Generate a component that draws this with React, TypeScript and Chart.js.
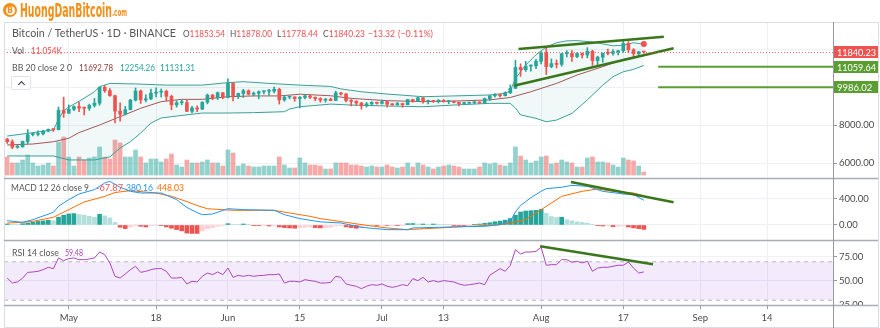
import React, { useEffect, useRef } from "react";
import { Chart, registerables } from "chart.js";

Chart.register(...registerables);

// ---------- data ----------
const xTickIdx = [12, 29, 43, 57, 73, 85, 104, 120, 135, 148];
const xTickLabels = ["May", "18", "Jun", "15", "Jul", "13", "Aug", "17", "Sep", "14"];

const opens = [
  7257, 7120, 6830, 6850, 7130, 7490, 7510, 7540, 7690, 7770,
  7760, 8780, 8620, 8830, 8970, 8890, 8880, 9030, 9150, 9990,
  9810, 9540, 8730, 8570, 8810, 9310, 9790, 9320, 9380, 9680,
  9730, 9780, 9510, 9060, 9170, 9180, 8720, 8900, 8840, 9200,
  9575, 9430, 9700, 9450, 10200, 9520, 9660, 9800, 9620, 9670,
  9750, 9780, 9780, 9880, 9320, 9470, 9480, 9390, 9450, 9530,
  9460, 9390, 9310, 9360, 9290, 9690, 9630, 9290, 9250, 9160,
  9010, 9110, 9190, 9140, 9230, 9090, 9060, 9130, 9070, 9340,
  9250, 9430, 9230, 9290, 9240, 9300, 9240, 9250, 9190, 9130,
  9150, 9170, 9210, 9160, 9390, 9540, 9600, 9540, 9700, 9930,
  11030, 10910, 11100, 11110, 11350, 11800, 11070, 11230, 11190, 11750,
  11770, 11600, 11760, 11680, 11880, 11390, 11570, 11780, 11770, 11860,
  11910, 12290, 11960, 11750, 11853.54,
];
const highs = [
  7300, 7220, 6940, 7160, 7760, 7600, 7700, 7720, 7795, 7800,
  8950, 9460, 9060, 9010, 9190, 8950, 9100, 9400, 10000, 10070,
  9920, 9580, 9170, 8980, 9350, 9950, 9840, 9590, 9890, 9950,
  9900, 9840, 9570, 9270, 9310, 9300, 8980, 9010, 9220, 9630,
  9610, 9740, 9700, 10430, 10230, 9680, 9880, 9850, 9740, 9800,
  9800, 9880, 9990, 9940, 9560, 9500, 9490, 9500, 9590, 9560,
  9480, 9440, 9400, 9420, 9780, 9720, 9670, 9340, 9280, 9190,
  9190, 9230, 9200, 9310, 9270, 9130, 9190, 9140, 9350, 9360,
  9450, 9440, 9310, 9300, 9340, 9340, 9280, 9270, 9210, 9190,
  9190, 9240, 9220, 9420, 9540, 9660, 9620, 9740, 10110, 11400,
  11220, 11350, 11170, 11450, 11860, 12120, 11480, 11420, 11780, 11910,
  11920, 11810, 11800, 12070, 11940, 11620, 11790, 12000, 11970, 11930,
  12470, 12390, 12020, 11880, 11878,
];
const lows = [
  7030, 6750, 6780, 6830, 7020, 7420, 7430, 7480, 7640, 7660,
  7740, 8400, 8620, 8760, 8700, 8530, 8770, 8940, 9040, 9720,
  9520, 8110, 8200, 8530, 8790, 9260, 9130, 9220, 9330, 9480,
  9470, 9280, 8800, 8940, 9070, 8700, 8630, 8700, 8810, 9110,
  9330, 9340, 9380, 9420, 9270, 9390, 9450, 9580, 9530, 9380,
  9640, 9570, 9690, 9100, 9250, 9380, 9250, 8900, 9370, 9380,
  9280, 9200, 9200, 9270, 9280, 9570, 9210, 9000, 9030, 8830,
  8940, 9010, 9090, 9100, 8940, 9040, 9050, 8930, 9060, 9200,
  9230, 9150, 9110, 9190, 9160, 9200, 9120, 9160, 9000, 9090,
  9120, 9110, 9130, 9150, 9290, 9470, 9470, 9530, 9650, 9920,
  10560, 10820, 10830, 10960, 11220, 10660, 11010, 11000, 11090, 11580,
  11350, 11540, 11520, 11530, 11140, 11160, 11300, 11690, 11680, 11690,
  11820, 11820, 11570, 11680, 11778.44,
];
const closes = [
  7120, 6830, 6850, 7130, 7490, 7510, 7540, 7690, 7770, 7760,
  8780, 8620, 8830, 8970, 8890, 8880, 9030, 9150, 9990, 9810,
  9540, 8730, 8570, 8810, 9310, 9790, 9320, 9380, 9680, 9730,
  9780, 9510, 9060, 9170, 9180, 8720, 8900, 8840, 9200, 9575,
  9430, 9700, 9450, 10200, 9520, 9660, 9800, 9620, 9670, 9750,
  9780, 9780, 9880, 9320, 9470, 9480, 9390, 9450, 9530, 9460,
  9390, 9310, 9360, 9290, 9690, 9630, 9290, 9250, 9160, 9010,
  9110, 9190, 9140, 9230, 9090, 9060, 9130, 9070, 9340, 9250,
  9430, 9230, 9290, 9240, 9300, 9240, 9250, 9190, 9130, 9150,
  9170, 9210, 9160, 9390, 9540, 9600, 9540, 9700, 9930, 11030,
  10910, 11100, 11110, 11350, 11800, 11070, 11230, 11190, 11750, 11770,
  11600, 11760, 11680, 11880, 11390, 11570, 11780, 11770, 11860, 11910,
  12290, 11960, 11750, 11853.54, 11840.23,
];
// volume, thousand BTC
const volumes = [
  72, 48, 48, 60, 80, 48, 36, 40, 48, 36,
  132, 152, 72, 36, 72, 60, 68, 72, 112, 72,
  64, 140, 128, 72, 72, 100, 72, 48, 64, 64,
  52, 64, 84, 40, 32, 60, 48, 48, 52, 60,
  48, 48, 36, 100, 88, 36, 44, 36, 32, 32,
  36, 36, 36, 72, 40, 28, 28, 68, 48, 40,
  40, 36, 24, 24, 48, 48, 48, 40, 40, 36,
  32, 36, 32, 32, 40, 32, 28, 32, 48, 32,
  48, 40, 32, 24, 32, 36, 40, 36, 32, 24,
  24, 24, 32, 48, 44, 48, 40, 36, 48, 112,
  76, 60, 48, 56, 72, 76, 44, 48, 60, 52,
  48, 32, 32, 68, 72, 52, 52, 48, 40, 32,
  68, 60, 56, 36, 12,
];

// Bollinger Bands (20, 2)
const bbUpperIdx = [0, 9, 10, 11, 12, 14, 17, 18, 20, 25, 31, 38, 43, 46, 51, 57, 63, 65, 69, 74, 81, 87, 94, 97, 98, 99, 100, 101, 103, 105, 107, 109, 111, 114, 116, 118, 120, 122, 124];
const bbUpper = [7420, 7740, 8300, 8750, 8950, 9250, 9750, 10020, 10190, 10160, 10100, 10100, 10230, 10280, 10190, 10100, 10030, 9900, 9750, 9630, 9490, 9530, 9580, 9670, 9800, 10450, 10800, 11150, 11700, 12100, 12330, 12430, 12440, 12370, 12270, 12170, 12200, 12330, 12254.26];
const bbMidIdx = [0, 5, 9, 12, 14, 18, 22, 26, 30, 34, 38, 43, 48, 53, 57, 63, 67, 74, 81, 87, 94, 98, 102, 107, 111, 116, 120, 124];
const bbMid = [6950, 7000, 7120, 7300, 7600, 8000, 8440, 8880, 9230, 9350, 9350, 9490, 9530, 9530, 9620, 9540, 9400, 9280, 9230, 9260, 9320, 9450, 9750, 10190, 10630, 11070, 11460, 11692.78];
const bbLowerIdx = [0, 9, 12, 17, 20, 22, 24, 26, 28, 30, 33, 38, 43, 48, 54, 55, 57, 63, 67, 74, 81, 87, 94, 98, 99, 100, 103, 105, 107, 110, 113, 116, 118, 120, 122, 124];
const bbLower = [6370, 6370, 6160, 6160, 6320, 6790, 7120, 7580, 8100, 8370, 8470, 8630, 8630, 8650, 8700, 8840, 8960, 9100, 9050, 9000, 8960, 9050, 9140, 9140, 8890, 8530, 8350, 8170, 8260, 8610, 9320, 10100, 10540, 10800, 10930, 11131.31];

// MACD (12, 26, 9)
const macdIdx = [0, 3, 5, 9, 10, 12, 14, 17, 19, 20, 22, 24, 26, 30, 33, 35, 37, 38, 40, 43, 46, 52, 54, 57, 61, 65, 69, 74, 78, 79, 84, 88, 93, 96, 98, 99, 100, 101, 102, 104, 105, 108, 110, 113, 116, 120, 122, 124];
const macdLine = [66, 41, 82, 195, 288, 390, 477, 544, 646, 672, 580, 518, 492, 492, 390, 270, 190, 159, 169, 251, 236, 226, 159, 98, 48, 31, -36, -72, -72, -46, -36, -26, -21, 5, 60, 200, 300, 360, 420, 518, 559, 580, 610, 595, 518, 477, 470, 380.16];
const signalIdx = [0, 3, 5, 9, 12, 15, 19, 21, 24, 29, 32, 35, 37, 39, 44, 52, 55, 59, 61, 70, 74, 78, 84, 90, 96, 98, 101, 105, 108, 112, 115, 118, 122, 124];
const signalLine = [31, 41, 56, 118, 236, 354, 440, 500, 528, 492, 441, 360, 300, 250, 226, 226, 185, 133, 98, -5, -46, -72, -46, -21, 5, 31, 82, 287, 441, 518, 554, 518, 492, 448.03];
const macdHist = [
  15, 10, 8, 20, 30, 40, 55, 62, 72, 65,
  120, 150, 170, 175, 160, 150, 135, 120, 165, 140,
  110, 40, -35, -55, -30, -15, -20, -30, -10, -5,
  -5, -30, -50, -70, -90, -125, -130, -130, -90, -60,
  -40, -20, -5, 20, 10, 8, 15, 5, -5, -10,
  -5, -15, -5, -30, -40, -45, -50, -40, -35, -30,
  -40, -45, -40, -35, -15, -10, -30, -40, -50, -45,
  -10, -8, -10, -8, -8, -5, -5, -3, 20, 22,
  15, 15, 12, 15, 12, 10, 8, -3, -5, -5,
  -3, 5, 15, 25, 35, 50, 60, 75, 100, 150,
  200, 215, 220, 226, 240, 180, 130, 115, 120, 80,
  65, 50, 40, 28, 10, -5, -15, -10, -25, -20,
  -15, -30, -45, -55, -67.87,
];

// RSI 14
const rsi = [
  53.1, 47.9, 49, 53, 59, 59.4, 60.1, 61.8, 64.3, 62.9,
  74, 71.2, 73.3, 74, 72.2, 72.2, 72.9, 74, 80.2, 77.4,
  68.8, 54.9, 53.1, 57.3, 61.8, 65.3, 59, 60.1, 61.8, 62.9,
  62.9, 60.1, 53.1, 53.1, 53.8, 46.9, 49.7, 49, 54.9, 58.3,
  56.6, 59.4, 56.6, 63.5, 53.8, 55.9, 54.9, 55.9, 54.9, 55.6,
  55.9, 56.6, 56.6, 57.3, 47.9, 49.7, 49.7, 49, 51.4, 50.4,
  49.7, 47.9, 47.9, 48.6, 54.9, 53.8, 46.9, 45.5, 44.5, 42,
  44.5, 46.2, 45.5, 46.9, 44.5, 43.4, 44.5, 46.2, 45.1, 52.4,
  50.4, 53.8, 49, 50.4, 49, 50.4, 49.7, 49, 46.9, 45.5,
  46.2, 46.9, 47.9, 46.2, 56, 59.4, 62.9, 60.1, 66.4, 82.6,
  78.1, 80.2, 80.2, 80.9, 85.1, 66.4, 67, 67, 72.2, 72.2,
  69.5, 70.5, 68.8, 70.5, 60.1, 63.5, 64.3, 64.3, 65.3, 66.4,
  66.4, 69.8, 63.5, 58.3, 59.48,
];
const rsiBands = [70, 30];

// drawings
const priceLevels = [11059.64, 9986.02];
const levelStartIdx = 126.8;
const trendTopIdx = [99.6, 127.9];
const trendTopVal = [12000, 12647];
const trendBotIdx = [98.7, 129.8];
const trendBotVal = [10070, 12037];
const macdTrendIdx = [109.8, 129.8];
const macdTrendVal = [661, 349];
const rsiTrendIdx = [103.8, 125.8];
const rsiTrendVal = [86.1, 67.4];
const markerIdx = [124];
const markerVal = [12260];

// ---------- styling ----------
const X_MIN = -0.62;
const X_MAX = 160.85;
const UP = "#26a69a";
const DOWN = "#ef5350";
const FONT = 'Lato, "Noto Sans", sans-serif';
const GRID = "#eef0f5";
const AXIS = "#9598a1";
const TXT = "#4a4a4a";
const GREEN_LVL = "#5a9e32";
const GREEN_TREND = "#3a761a";

const pts = (idx: number[], vals: number[]) => idx.map((x, k) => ({ x, y: vals[k] }));

const overlayPlugin = {
  id: "overlay",
  afterDatasetsDraw(chart: any) {
    const { ctx, chartArea: a, scales } = chart;
    const py = Math.round(scales.y.getPixelForValue(closes[closes.length - 1])) + 0.5;
    ctx.save();
    ctx.strokeStyle = "rgba(239,83,80,0.85)";
    ctx.lineWidth = 1;
    ctx.setLineDash([1, 2]);
    ctx.beginPath();
    ctx.moveTo(a.left, py);
    ctx.lineTo(a.right, py);
    ctx.stroke();
    ctx.restore();
  },
  afterDraw(chart: any) {
    const { ctx, chartArea: a, scales, width, height } = chart;
    ctx.save();
    // mask below RSI pane on axis column
    ctx.fillStyle = "#fff";
    ctx.fillRect(a.right + 1, a.bottom + 1, width - a.right, height - a.bottom);
    // frame
    ctx.strokeStyle = "#d9dce3";
    ctx.lineWidth = 1;
    ctx.strokeRect(a.left + 0.5, a.top + 0.5, width - a.left - 2, height - a.top - 1);
    // pane separators
    ctx.strokeStyle = "#a9acb4";
    ctx.lineWidth = 1.5;
    [scales.macd.top, scales.rsi.top, a.bottom].forEach((yy: number) => {
      ctx.beginPath();
      ctx.moveTo(a.left, Math.round(yy) + 0.5);
      ctx.lineTo(width - 2, Math.round(yy) + 0.5);
      ctx.stroke();
    });
    // axis line
    ctx.strokeStyle = AXIS;
    ctx.lineWidth = 1;
    ctx.beginPath();
    ctx.moveTo(Math.round(a.right) + 0.5, a.top);
    ctx.lineTo(Math.round(a.right) + 0.5, height);
    ctx.stroke();
    // price label boxes
    const boxes = [
      { v: closes[closes.length - 1], c: DOWN },
      ...priceLevels.map((v) => ({ v, c: GREEN_LVL })),
    ];
    ctx.font = `9.5px ${FONT}`;
    ctx.textBaseline = "middle";
    ctx.textAlign = "left";
    boxes.forEach((b) => {
      const yy = Math.round(scales.y.getPixelForValue(b.v));
      ctx.fillStyle = b.c;
      ctx.fillRect(a.right + 1, yy - 6, 44, 12);
      ctx.fillStyle = "#fff";
      ctx.fillText(b.v.toFixed(2), a.right + 4, yy + 0.5, 39);
    });
    ctx.restore();
  },
};

type Seg = { x: number; y: number; w: number; parts: [string, string][]; size?: number };
const GRAY = "#555";
const segs: Seg[] = [
  { x: 12, y: 33, w: 164, size: 11.5, parts: [["Bitcoin / TetherUS · 1D · BINANCE", GRAY]] },
  { x: 183, y: 33, w: 42, parts: [["O", GRAY], ["11853.54", DOWN]] },
  { x: 230, y: 33, w: 42, parts: [["H", GRAY], ["11878.00", DOWN]] },
  { x: 277, y: 33, w: 41, parts: [["L", GRAY], ["11778.44", DOWN]] },
  { x: 323, y: 33, w: 42, parts: [["C", GRAY], ["11840.23", DOWN]] },
  { x: 368, y: 33, w: 27, parts: [["−13.32", DOWN]] },
  { x: 398, y: 33, w: 35, parts: [["(−0.11%)", DOWN]] },
  { x: 12, y: 50, w: 12, parts: [["Vol", GRAY]] },
  { x: 31, y: 50, w: 31, parts: [["11.054K", DOWN]] },
  { x: 12, y: 67, w: 60, parts: [["BB 20 close 2 0", GRAY]] },
  { x: 79, y: 67, w: 34, parts: [["11692.78", "#8b3b3b"]] },
  { x: 120, y: 67, w: 35, parts: [["12254.26", "#26a69a"]] },
  { x: 160, y: 67, w: 35, parts: [["11131.31", "#26a69a"]] },
  { x: 11, y: 187, w: 78, parts: [["MACD 12 26 close 9", GRAY]] },
  { x: 96, y: 187, w: 27, parts: [["-67.87", DOWN]] },
  { x: 126, y: 187, w: 27, parts: [["380.16", "#2196f3"]] },
  { x: 157, y: 187, w: 27, parts: [["448.03", "#ff6d00"]] },
  { x: 12, y: 252, w: 47, parts: [["RSI 14 close", GRAY]] },
  { x: 65, y: 252, w: 18, parts: [["59.48", "#ab47bc"]] },
];

export default function App() {
  const canvasRef = useRef<HTMLCanvasElement>(null);
  const wrapRef = useRef<HTMLDivElement>(null);

  useEffect(() => {
    document.body.style.margin = "0";
    // fit header texts to measured widths
    wrapRef.current?.querySelectorAll<HTMLElement>("[data-w]").forEach((el) => {
      el.style.transform = "none";
      const nat = el.getBoundingClientRect().width;
      const w = Number(el.dataset.w);
      if (nat > 0) el.style.transform = `scaleX(${w / nat})`;
    });

    const up = closes.map((c, i) => c >= opens[i]);
    const candleColors = up.map((u) => (u ? UP : DOWN));
    const volColors = up.map((u) => (u ? "rgba(38,166,154,0.5)" : "rgba(239,83,80,0.5)"));
    const histColors = macdHist.map((v, i) => {
      const p = i > 0 ? macdHist[i - 1] : v;
      if (v >= 0) return v >= p ? "#26a69a" : "#b2dfdb";
      return v <= p ? "#ef5350" : "#ffcdd2";
    });
    const idx = closes.map((_, i) => i);

    const line = (data: any[], yAxisID: string, color: string, width = 1, extra: any = {}) => ({
      type: "line",
      data,
      yAxisID,
      borderColor: color,
      borderWidth: width,
      pointRadius: 0,
      tension: 0,
      fill: false,
      ...extra,
    });

    const chart = new Chart(canvasRef.current!, {
      type: "bar",
      data: {
        datasets: [
          {
            type: "bar",
            data: idx.map((i) => ({ x: i, y: volumes[i] })),
            yAxisID: "vol",
            backgroundColor: volColors,
            barThickness: 4,
            grouped: false,
            order: 30,
          },
          line(pts(bbUpperIdx, bbUpper), "y", "#3aa096", 1, { fill: "+1", backgroundColor: "rgba(38,166,154,0.07)", order: 20 }),
          line(pts(bbLowerIdx, bbLower), "y", "#3aa096", 1, { order: 20 }),
          line(pts(bbMidIdx, bbMid), "y", "#a35656", 1, { order: 19 }),
          {
            type: "bar",
            data: idx.map((i) => ({ x: i, y: [lows[i], highs[i]] })),
            yAxisID: "y",
            backgroundColor: candleColors,
            barThickness: 1,
            grouped: false,
            order: 10,
          },
          {
            type: "bar",
            data: idx.map((i) => ({ x: i, y: [opens[i], closes[i]] })),
            yAxisID: "y",
            backgroundColor: candleColors,
            barThickness: 3,
            minBarLength: 1,
            grouped: false,
            order: 9,
          },
          ...priceLevels.map((v) =>
            line([{ x: levelStartIdx, y: v }, { x: X_MAX, y: v }], "y", GREEN_LVL, 2, { order: 3 })
          ),
          line(pts(trendTopIdx, trendTopVal), "y", GREEN_TREND, 2.5, { order: 2 }),
          line(pts(trendBotIdx, trendBotVal), "y", GREEN_TREND, 2.5, { order: 2 }),
          line(pts(markerIdx, markerVal), "y", DOWN, 1, {
            showLine: false,
            pointRadius: 3,
            pointBackgroundColor: DOWN,
            pointBorderWidth: 0,
            order: 1,
          }),
          {
            type: "bar",
            data: idx.map((i) => ({ x: i, y: macdHist[i] })),
            yAxisID: "macd",
            backgroundColor: histColors,
            barThickness: 4,
            grouped: false,
            order: 12,
          },
          line(pts(macdIdx, macdLine), "macd", "#2196f3", 1, { order: 6 }),
          line(pts(signalIdx, signalLine), "macd", "#ff6d00", 1, { order: 6 }),
          line(pts(macdTrendIdx, macdTrendVal), "macd", GREEN_TREND, 2.5, { order: 2 }),
          line([{ x: X_MIN, y: rsiBands[0] }, { x: X_MAX, y: rsiBands[0] }], "rsi", "#b7b9c2", 1, {
            borderDash: [4, 4],
            fill: "+1",
            backgroundColor: "rgba(150,60,220,0.11)",
            order: 25,
          }),
          line([{ x: X_MIN, y: rsiBands[1] }, { x: X_MAX, y: rsiBands[1] }], "rsi", "#b7b9c2", 1, {
            borderDash: [4, 4],
            order: 25,
          }),
          line(idx.map((i) => ({ x: i, y: rsi[i] })), "rsi", "#ab47bc", 1, { order: 5 }),
          line(pts(rsiTrendIdx, rsiTrendVal), "rsi", GREEN_TREND, 2.5, { order: 2 }),
        ] as any,
      },
      options: {
        responsive: false,
        animation: false,
        devicePixelRatio: 1,
        events: [],
        layout: { padding: { top: 22, left: 3, right: 2, bottom: 0 } },
        plugins: { legend: { display: false }, tooltip: { enabled: false } },
        scales: {
          x: {
            type: "linear",
            min: X_MIN,
            max: X_MAX,
            offset: false,
            grid: { color: GRID, offset: false, drawTicks: true, tickLength: 4, tickColor: AXIS },
            border: { display: true, color: AXIS },
            afterBuildTicks: (s: any) => {
              s.ticks = xTickIdx.map((v) => ({ value: v }));
            },
            afterFit: (s: any) => {
              s.height = 23;
            },
            ticks: {
              autoSkip: false,
              maxRotation: 0,
              padding: 3,
              color: TXT,
              font: { family: FONT, size: 9.5 },
              callback: (v: any) => xTickLabels[xTickIdx.indexOf(Number(v))] ?? "",
            },
          },
          y: {
            type: "linear",
            position: "right",
            stack: "panes",
            stackWeight: 156,
            min: 5211,
            max: 13421,
            afterBuildTicks: (s: any) => {
              s.ticks = [6000, 8000, 10000, 12000].map((v) => ({ value: v }));
            },
            afterFit: (s: any) => {
              s.width = 45;
            },
            grid: { color: GRID, drawTicks: true, tickLength: 4, tickColor: AXIS },
            border: { color: AXIS },
            ticks: {
              padding: 2,
              color: TXT,
              font: { family: FONT, size: 9.5 },
              callback: (v: any) => (v === 6000 || v === 8000 ? Number(v).toFixed(2) : ""),
            },
          },
          macd: {
            type: "linear",
            position: "right",
            stack: "panes",
            stackWeight: 62,
            min: -231,
            max: 723,
            afterBuildTicks: (s: any) => {
              s.ticks = [0, 400].map((v) => ({ value: v }));
            },
            afterFit: (s: any) => {
              s.width = 45;
            },
            grid: { color: GRID, drawTicks: true, tickLength: 4, tickColor: AXIS },
            border: { color: AXIS },
            ticks: {
              padding: 2,
              color: TXT,
              font: { family: FONT, size: 9.5 },
              callback: (v: any) => Number(v).toFixed(2),
            },
          },
          rsi: {
            type: "linear",
            position: "right",
            stack: "panes",
            stackWeight: 65,
            min: 25,
            max: 92.7,
            afterBuildTicks: (s: any) => {
              s.ticks = [25, 50, 75].map((v) => ({ value: v }));
            },
            afterFit: (s: any) => {
              s.width = 45;
            },
            grid: { color: GRID, drawTicks: true, tickLength: 4, tickColor: AXIS },
            border: { color: AXIS },
            ticks: {
              padding: 2,
              color: TXT,
              font: { family: FONT, size: 9.5 },
              callback: (v: any) => Number(v).toFixed(2),
            },
          },
          vol: {
            type: "linear",
            position: "left",
            display: false,
            min: -520,
            max: 612,
          },
        },
      } as any,
      plugins: [overlayPlugin],
    });
    return () => chart.destroy();
  }, []);

  return (
    <div
      ref={wrapRef}
      style={{ position: "relative", width: 880, height: 328, overflow: "hidden", background: "#fff", fontFamily: FONT }}
    >
      <canvas ref={canvasRef} width={880} height={328} style={{ display: "block" }} />
      {/* logo */}
      <div
        style={{
          position: "absolute",
          left: 3,
          top: 3,
          width: 14,
          height: 14,
          borderRadius: "50%",
          background: "#f39019",
          display: "flex",
          alignItems: "center",
          justifyContent: "center",
        }}
      >
        <div
          style={{
            width: 9,
            height: 9,
            borderRadius: "50%",
            background: "#fff",
            color: "#f39019",
            fontSize: 8,
            fontWeight: 700,
            lineHeight: "9px",
            textAlign: "center",
            fontFamily: "DejaVu Sans, sans-serif",
          }}
        >
          B
        </div>
      </div>
      <span
        data-w="92"
        style={{
          position: "absolute",
          left: 20,
          top: 0,
          lineHeight: "20px",
          fontSize: 19,
          fontWeight: 700,
          color: "#f39019",
          fontFamily: '"DejaVu Sans Condensed", "DejaVu Sans", sans-serif',
          whiteSpace: "nowrap",
          transformOrigin: "0 50%",
        }}
      >
        HuongDanBitcoin
      </span>
      <span
        data-w="15"
        style={{
          position: "absolute",
          left: 112,
          top: 7,
          lineHeight: "12px",
          fontSize: 10,
          fontWeight: 700,
          color: "#f39019",
          fontFamily: '"DejaVu Sans Condensed", "DejaVu Sans", sans-serif',
          whiteSpace: "nowrap",
          transformOrigin: "0 50%",
        }}
      >
        .com
      </span>
      {/* collapse button */}
      <div
        style={{
          position: "absolute",
          left: 11,
          top: 76,
          width: 20,
          height: 14,
          border: "1px solid #e0e3eb",
          borderRadius: 2,
          background: "#fff",
          boxSizing: "border-box",
        }}
      >
        <div
          style={{
            position: "absolute",
            left: 7,
            top: 5,
            width: 4,
            height: 4,
            borderLeft: "1.5px solid #333",
            borderTop: "1.5px solid #333",
            transform: "rotate(45deg)",
          }}
        />
      </div>
      {segs.map((s, k) => (
        <span
          key={k}
          data-w={s.w}
          style={{
            position: "absolute",
            left: s.x,
            top: s.y - 7,
            lineHeight: "14px",
            fontSize: s.size ?? 10,
            whiteSpace: "nowrap",
            transformOrigin: "0 50%",
          }}
        >
          {s.parts.map(([t, c], j) => (
            <span key={j} style={{ color: c }}>
              {t}
            </span>
          ))}
        </span>
      ))}
    </div>
  );
}
